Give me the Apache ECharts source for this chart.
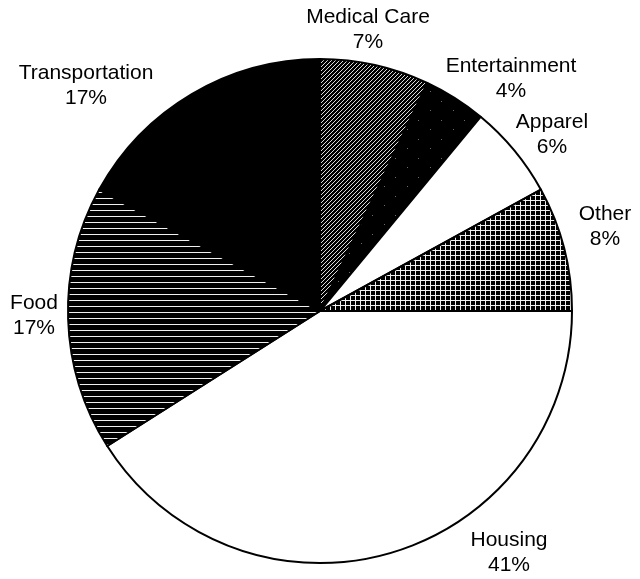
<!DOCTYPE html>
<html>
<head>
<meta charset="utf-8">
<title>Household Spending</title>
<script src="https://cdn.jsdelivr.net/npm/echarts@6/dist/echarts.min.js"></script>
<style>
  html, body { margin: 0; padding: 0; background: #ffffff; }
  #chart { width: 640px; height: 579px; }
</style>
</head>
<body>
<div id="chart"></div>
<script>
// Spending shares, clockwise from 12 o'clock
const categories = ['Medical Care', 'Entertainment', 'Apparel', 'Other', 'Housing', 'Food', 'Transportation'];
const shares = [7, 4, 6, 8, 41, 17, 17];

// Label block centres (px), one per category
const labelCentres = [
  [368, 30], [511, 79], [552, 135], [605, 227], [509, 553], [34, 316], [86, 86]
];

// Build a small tile from a pixel rule: fn(x, y) -> css colour
function tile(w, h, fn) {
  const c = document.createElement('canvas');
  c.width = w; c.height = h;
  const ctx = c.getContext('2d');
  for (let y = 0; y < h; y++) {
    for (let x = 0; x < w; x++) {
      ctx.fillStyle = fn(x, y);
      ctx.fillRect(x, y, 1, 1);
    }
  }
  return { image: c, repeat: 'repeat' };
}

const fills = {
  diagonal: tile(4, 4, (x, y) => (x + y) % 4 === 3 ? '#dcdcdc' : '#000'),
  speckle: tile(23, 19, (x, y) => ((x === 4 && y === 6) || (x === 16 && y === 15)) ? '#6a6a6a' : '#000'),
  white: '#ffffff',
  grid: tile(5, 5, (x, y) => (x === 0 || y === 0) ? '#f2f2f2' : '#000'),
  horizontal: tile(6, 6, (x, y) => y === 0 ? '#f0f0f0' : '#000'),
  solid: '#000000'
};
const sliceFill = [fills.diagonal, fills.speckle, fills.white, fills.grid, fills.white, fills.horizontal, fills.solid];

const chart = echarts.init(document.getElementById('chart'), null, { renderer: 'canvas' });

chart.setOption({
  animation: false,
  backgroundColor: '#ffffff',
  series: [{
    type: 'pie',
    silent: true,
    center: [320, 311],
    radius: [0, 252],
    startAngle: 90,
    clockwise: true,
    avoidLabelOverlap: false,
    data: categories.map((name, i) => ({
      name: name,
      value: shares[i],
      itemStyle: { color: sliceFill[i] }
    })),
    itemStyle: { borderColor: '#000', borderWidth: 2 },
    label: {
      show: true,
      position: 'outside',
      formatter: '{b}\n{c}%',
      color: '#000',
      fontFamily: '"Liberation Sans", Arial, sans-serif',
      fontSize: 21,
      lineHeight: 25,
      align: 'center'
    },
    labelLine: { show: false },
    labelLayout: function (params) {
      const p = labelCentres[params.dataIndex];
      return { x: p[0], y: p[1], align: 'center', verticalAlign: 'middle' };
    },
    emphasis: { disabled: true }
  }]
});
</script>
</body>
</html>
